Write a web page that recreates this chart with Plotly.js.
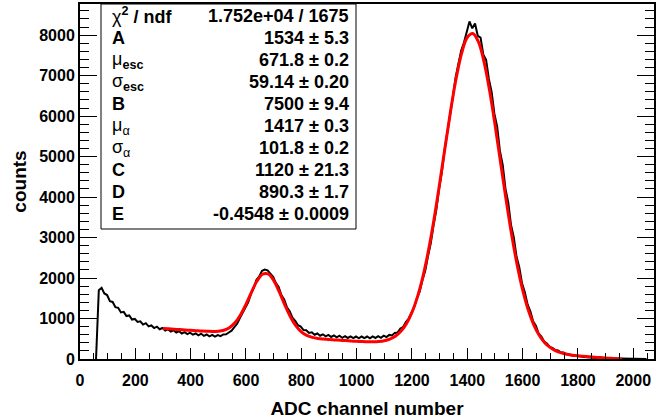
<!DOCTYPE html>
<html>
<head>
<meta charset="utf-8">
<script src="https://cdn.plot.ly/plotly-3.0.1.min.js"></script>
<style>html,body{margin:0;padding:0;background:#fff;}#chart{width:657px;height:419px;}</style>
</head>
<body>
<div id="chart"></div>
<script>
// Histogram: bin spacing 10 channels, first bin at channel 58
const histStart = 58;
const histStep = 10;
const histCounts = [
0,1700,1760,1620,1580,1430,1410,1280,1265,1150,
1165,1060,1075,975,990,915,930,850,885,805,
830,765,800,735,765,700,735,680,710,655,
685,630,665,615,650,600,630,585,625,570,
605,560,595,555,590,565,605,610,655,700,
785,870,1010,1130,1260,1400,1610,1760,1960,2040,
2180,2210,2190,2100,2030,1880,1780,1580,1470,1280,
1180,1020,945,835,800,715,710,645,660,600,
630,575,610,560,595,545,585,535,575,525,
565,520,560,515,555,510,555,515,555,510,
560,520,565,525,575,540,595,580,645,655,
755,790,915,1000,1160,1280,1500,1670,1950,2180,
2540,2860,3300,3680,4200,4610,5160,5580,6110,6480,
6960,7260,7620,7820,8080,8340,8170,8290,7980,7940,
7520,7390,6920,6600,6060,5740,5140,4800,4210,3870,
3320,3010,2530,2270,1870,1650,1350,1180,930,820,
630,555,430,385,300,275,220,210,165,160,
118,115,88,86,66,66,50,49,36,36,
25,24,16,15,10,10,6,6,3,4,
2,2,1,1,0,1,0,0,0,0
];

// Fit curve samples
const fitX = [300,320,340,360,380,400,420,440,460,480,500,520,540,560,580,600,620,640,660,680,
700,720,740,760,780,800,820,840,860,880,900,920,940,960,980,1000,1020,1040,1060,1080,
1100,1120,1140,1160,1180,1200,1220,1240,1260,1280,1300,1320,1340,1360,1380,1400,1420,1440,1460,1480,
1500,1520,1540,1560,1580,1600,1620,1640,1660,1680,1700,1720,1740,1760,1780,1800,1820,1840,1860,1880,
1900,1920,1940,1960];
const fitY = [754,745,736,727,718,708,699,690,684,680,686,711,773,893,1087,1351,1653,1926,2094,2100,
1941,1663,1343,1050,824,672,583,535,509,493,481,472,463,454,445,438,430,425,425,432,
451,492,564,685,873,1149,1534,2046,2692,3461,4330,5243,6141,6940,7564,7946,8042,7838,7360,6657,
5803,4874,3949,3088,2337,1713,1222,851,587,403,281,201,150,117,94,78,66,55,44,35,
26,17,8,0];

// Stat box
const G = s => '<span style="font-weight:normal">' + s + '</span>';
const statLabels = [G("χ") + "<sup>2</sup> / ndf", "A", G("μ") + "<sub>esc</sub>", G("σ") + "<sub>esc</sub>", "B",
  G("μ") + "<sub>" + G("α") + "</sub>", G("σ") + "<sub>" + G("α") + "</sub>", "C", "D", "E"];
const statValues = ["1.752e+04 / 1675", "1534 ± 5.3", "671.8 ± 0.2", "59.14 ± 0.20", "7500 ± 9.4", "1417 ± 0.3", "101.8 ± 0.2", "1120 ± 21.3", "890.3 ± 1.7", "-0.4548 ± 0.0009"];

const F = "Liberation Sans, Arial, Helvetica, sans-serif";
const plotL = 80, plotR = 654, plotT = 4, plotB = 359;
const pw = plotR - plotL, ph = plotB - plotT;
const px2x = p => (p - plotL) / pw;
const py2y = p => (plotB - p) / ph;

const annotations = [];
statLabels.forEach((s, i) => {
  const yc = py2y(16 + 22 * i);
  annotations.push({xref:'paper', yref:'paper', x: px2x(110), y: yc, xanchor:'left', yanchor:'middle',
    text: '<b>' + s + '</b>', showarrow:false, font:{family:F, size:18, color:'#000'}});
  annotations.push({xref:'paper', yref:'paper', x: px2x(351), y: yc, xanchor:'right', yanchor:'middle',
    text: '<b>' + statValues[i] + '</b>', showarrow:false, font:{family:F, size:18, color:'#000'}});
});

const traces = [
  {type:'scatter', mode:'lines', x0: histStart, dx: histStep, y: histCounts,
   line:{color:'#000', width:2, shape:'linear'}, hoverinfo:'skip'},
  {type:'scatter', mode:'lines', x: fitX, y: fitY,
   line:{color:'#ff0000', width:3, shape:'spline'}, hoverinfo:'skip'}
];

const layout = {
  width:657, height:419,
  margin:{l:plotL, r:657-plotR, t:plotT, b:419-plotB},
  paper_bgcolor:'#fff', plot_bgcolor:'#fff',
  showlegend:false,
  font:{family:F, color:'#000'},
  xaxis:{range:[0,2075], showgrid:false, zeroline:false, showline:true, linecolor:'#000', linewidth:2, mirror:true,
    ticks:'inside', ticklen:11, tickwidth:1, tickcolor:'#000', dtick:200, tick0:0,
    minor:{ticks:'inside', ticklen:6, dtick:50, tickcolor:'#000', tickwidth:1},
    ticklabelstandoff:6,
    tickfont:{family:F, size:16, color:'#000', weight:'bold'},
    title:{text:'<b>ADC channel number</b>', font:{family:F, size:19, color:'#000'}, standoff:18}},
  yaxis:{range:[0,8770], showgrid:false, zeroline:false, showline:true, linecolor:'#000', linewidth:2, mirror:'ticks',
    ticks:'inside', ticklen:17, tickwidth:1, tickcolor:'#000', dtick:1000, tick0:0,
    minor:{ticks:'inside', ticklen:9, dtick:200, tickcolor:'#000', tickwidth:1},
    tickfont:{family:F, size:16, color:'#000', weight:'bold'},
    title:{text:'<b>counts</b>', font:{family:F, size:19, color:'#000'}, standoff:8}},
  shapes:[{type:'rect', xref:'paper', yref:'paper', x0:px2x(101), x1:px2x(356), y0:py2y(229), y1:1,
    line:{color:'#000', width:1}, fillcolor:'#fff', layer:'above'}],
  annotations: annotations
};

Plotly.newPlot('chart', traces, layout, {displayModeBar:false, staticPlot:true});
</script>
</body>
</html>
